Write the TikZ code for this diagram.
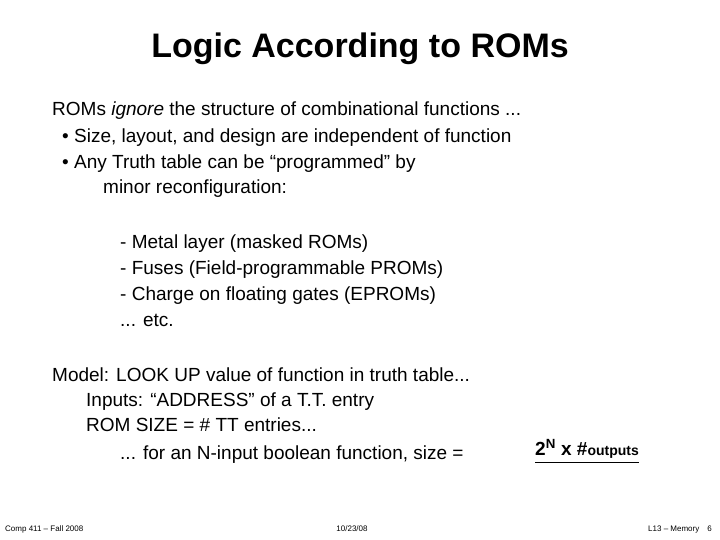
\documentclass[tikz,border=0pt]{standalone}
\usepackage{fontspec}
\setmainfont{Liberation Sans}
\begin{document}
\begin{tikzpicture}[x=1pt,y=-1pt,
  txt/.style={anchor=base west,inner sep=0pt,font=\fontsize{19}{22}\selectfont},
  foot/.style={anchor=base,inner sep=0pt,font=\fontsize{8}{10}\selectfont}]
\useasboundingbox[fill=white] (0,0) rectangle (720,540);
\node[anchor=base,inner sep=0pt,font=\bfseries\fontsize{34}{38}\selectfont] (title) at (360,58) {Logic According to ROMs};
\node[txt] (l1) at (52,116) {ROMs \textit{ignore} the structure of combinational functions ...};
\node[txt] (l2) at (62,143) {\textbullet\ Size, layout, and design are independent of function};
\node[txt] (l3) at (62,169) {\textbullet\ Any Truth table can be “programmed” by};
\node[txt] (l4) at (103,194) {minor reconfiguration:};
\node[txt] (m1) at (120,248) {- Metal layer (masked ROMs)};
\node[txt] (m2) at (120,274) {- Fuses (Field-programmable PROMs)};
\node[txt] (m3) at (120,300) {- Charge on floating gates (EPROMs)};
\node[txt] (m4) at (120,326) {... etc.};
\node[txt] (n1) at (52,381) {Model: LOOK UP value of function in truth table...};
\node[txt] (n2) at (86,406) {Inputs: “ADDRESS” of a T.T. entry};
\node[txt] (n3) at (86,431) {ROM SIZE = \# TT entries...};
\node[txt] (n4) at (120,459) {... for an N-input boolean function, size =};
\node[anchor=base west,inner sep=0pt,font=\bfseries\fontsize{19}{22}\selectfont] (f) at (535,455) {2\textsuperscript{N} x \#\fontsize{14}{16}\selectfont outputs};
\draw[line width=1pt] ([yshift=-4pt]f.south west) -- ([yshift=-4pt]f.south east);
\node[foot,anchor=base west] (c1) at (5,531) {Comp 411 – Fall 2008};
\node[foot] (c2) at (352,531) {10/23/08};
\node[foot,anchor=base east] (c3) at (712,531) {L13 – Memory\quad 6};
\end{tikzpicture}
\end{document}
